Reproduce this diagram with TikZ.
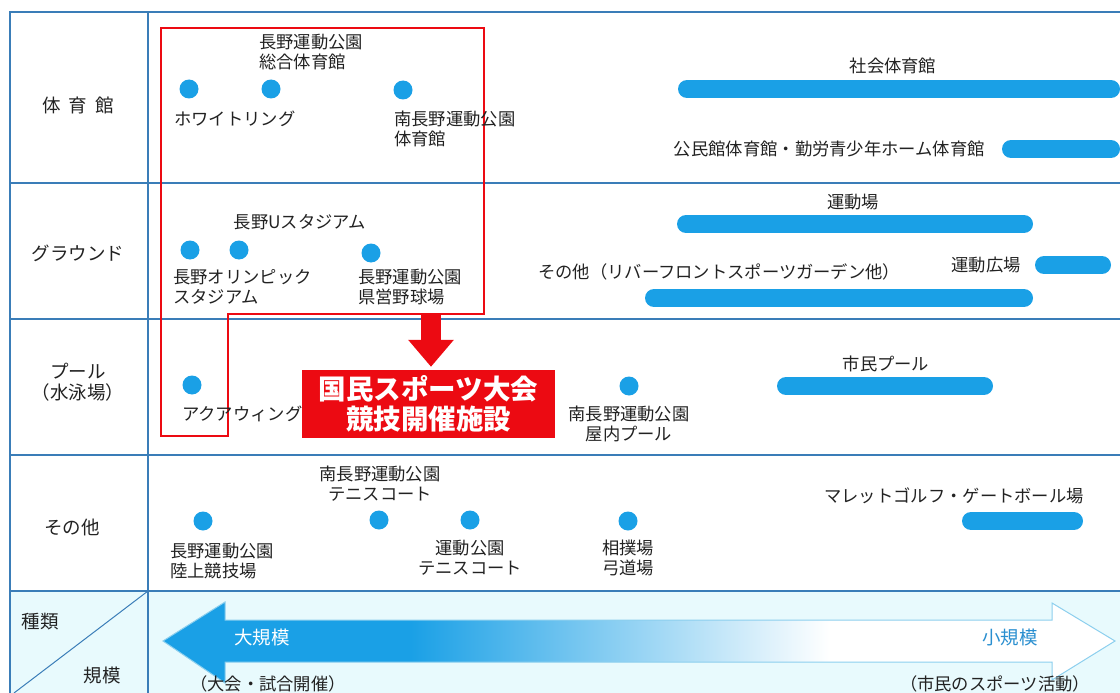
\documentclass[tikz,border=0pt]{standalone}
\usepackage{fontspec}
\setmainfont{Noto Sans CJK JP}
\usetikzlibrary{arrows.meta}
\definecolor{dotblue}{HTML}{1AA0E6}
\definecolor{tline}{HTML}{3A7DB8}
\definecolor{bgcyan}{HTML}{E8FAFD}
\definecolor{txt}{HTML}{222222}
\definecolor{redc}{HTML}{EC0A12}
\definecolor{edgeblue}{HTML}{8CCFEE}
\definecolor{smallblue}{HTML}{2A8FD0}
\pgfdeclarehorizontalshading{arrowshade}{100bp}{color(0bp)=(dotblue); color(38bp)=(dotblue); color(60bp)=(white); color(100bp)=(white)}
\begin{document}
\begin{tikzpicture}[x=1pt,y=-1pt,
  tableline/.style={draw=tline,line width=1.3pt},
  dot/.style={circle,fill=dotblue,minimum size=19pt,inner sep=0pt},
  bar/.style={draw=dotblue,line width=18pt,line cap=round},
  lab/.style={font=\fontsize{17.3}{20}\selectfont,inner sep=0pt,text=txt},
  cat/.style={font=\fontsize{18.5}{21}\selectfont,inner sep=0pt,text=txt,align=center},
  redline/.style={draw=redc,line width=2.6pt,line join=miter}]
\useasboundingbox (0,0) rectangle (1120,693);
% bottom row background
\fill[bgcyan] (10,591) rectangle (1120,693);
% table
\draw[tableline] (10,693) -- (10,12) -- (1120,12);
\draw[tableline] (148,12) -- (148,693);
\foreach \yy in {183,319,455,591} \draw[tableline] (10,\yy) -- (1120,\yy);
\draw[draw=tline,line width=1pt] (148,591) -- (14,693);
% category labels
\node[cat] (c1) at (78,105) {体\hspace{8pt}育\hspace{8pt}館};
\node[cat] (c2) at (78,253) {グラウンド};
\node[cat] (c3) at (78,382) {プール\\（水泳場）};
\node[cat] (c4) at (72,527) {その他};
\node[cat] (k1) at (40,622) {種類};
\node[cat] (k2) at (102,675) {規模};
% red outline
\draw[redline] (161,28) -- (484,28) -- (484,314) -- (228,314) -- (228,436) -- (161,436) -- cycle;
% row 1
\node[dot] (d1) at (189,89) {};
\node[dot] (d2) at (271,89) {};
\node[dot] (d3) at (403,90) {};
\node[lab,align=left,anchor=west] (l2) at (259,52) {長野運動公園\\総合体育館};
\node[lab,anchor=west] (l1) at (174,119) {ホワイトリング};
\node[lab,align=left,anchor=west] (l3) at (394,129) {南長野運動公園\\体育館};
\draw[bar] (687,89) -- (1111,89);
\node[lab] (b1) at (893,66) {社会体育館};
\draw[bar] (1011,149) -- (1111,149);
\node[lab,anchor=east] (b2) at (985,149) {公民館体育館・勤労青少年ホーム体育館};
% row 2
\node[dot] (d4) at (190,250) {};
\node[dot] (d5) at (239,250) {};
\node[dot] (d6) at (371,253) {};
\node[lab] (l5) at (300,222) {長野Uスタジアム};
\node[lab,align=left,anchor=west] (l4) at (173,287) {長野オリンピック\\スタジアム};
\node[lab,align=left,anchor=west] (l6) at (358,287) {長野運動公園\\県営野球場};
\draw[bar] (686,224) -- (1024,224);
\node[lab] (b3) at (853,202) {運動場};
\draw[bar] (654,298) -- (1024,298);
\node[lab,anchor=west] (b4) at (538,272) {その他（リバーフロントスポーツガーデン他）};
\draw[bar] (1044,265) -- (1102,265);
\node[lab] (b5) at (986,265) {運動広場};
% row 3
\node[dot] (d7) at (192,385) {};
\node[lab,anchor=west] (l7) at (182,414) {アクアウィング};
\node[dot] (d8) at (629,386) {};
\node[lab,align=center] (l8) at (629,424) {南長野運動公園\\屋内プール};
\draw[bar] (786,386) -- (984,386);
\node[lab] (b6) at (886,364) {市民プール};
% red box and arrow
\node[fill=redc,text=white,font=\fontsize{27.5}{30}\selectfont\bfseries,align=center,minimum width=253pt,minimum height=68pt,inner sep=0pt] (rbox) at (428.5,404) {国民スポーツ大会\\競技開催施設};
\coordinate (rtop) at (431,315);
\draw[draw=redc,line width=20pt,-{Triangle[width=44pt,length=27pt]},shorten >=3pt] (rtop) -- (rbox.north -| rtop);
% row 4
\node[dot] (d9) at (203,521) {};
\node[dot] (d10) at (379,520) {};
\node[dot] (d11) at (470,520) {};
\node[dot] (d12) at (628,521) {};
\node[lab,align=left,anchor=west] (l9) at (170,561) {長野運動公園\\陸上競技場};
\node[lab,align=center] (l10) at (380,484) {南長野運動公園\\テニスコート};
\node[lab,align=center] (l11) at (470,558) {運動公園\\テニスコート};
\node[lab,align=center] (l12) at (628,558) {相撲場\\弓道場};
\draw[bar] (971,521) -- (1074,521);
\node[lab,anchor=east] (b7) at (1084,496) {マレットゴルフ・ゲートボール場};
% scale arrow
\path[shading=arrowshade,draw=edgeblue,line width=1pt] (163,641) -- (225,602) -- (225,620) -- (1052,620) -- (1052,603) -- (1115,641) -- (1052,680) -- (1052,662) -- (225,662) -- (225,683) -- cycle;
\node[font=\fontsize{18.5}{22}\selectfont,text=white,inner sep=0pt] (big) at (262,637) {大規模};
\node[font=\fontsize{18.5}{22}\selectfont,text=smallblue,inner sep=0pt] (small) at (1010,637) {小規模};
\node[lab] (bl) at (268,684) {（大会・試合開催）};
\node[lab] (br) at (995,684) {（市民のスポーツ活動）};
\end{tikzpicture}
\end{document}
